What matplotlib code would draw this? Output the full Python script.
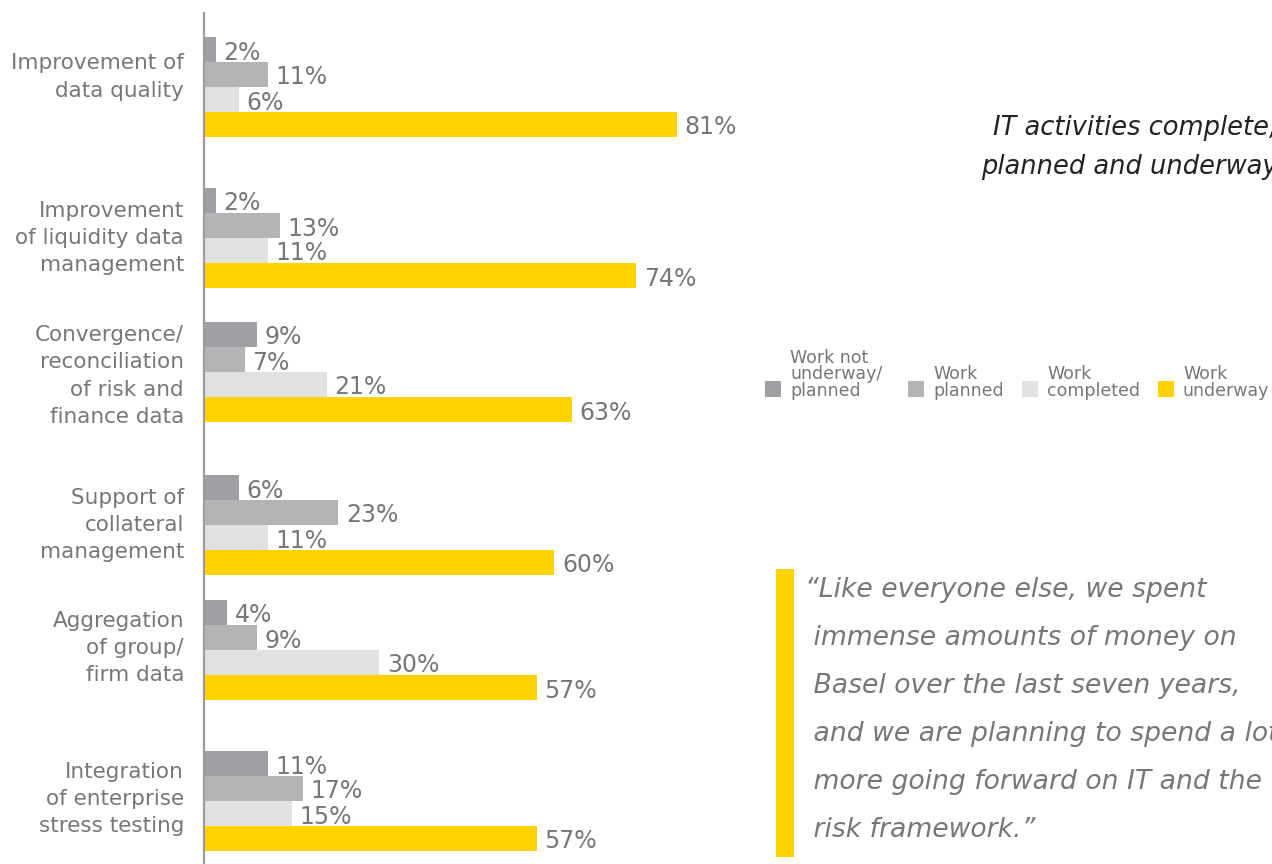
import matplotlib
matplotlib.use("Agg")
import matplotlib.pyplot as plt
from matplotlib.patches import Rectangle

# ---- data -------------------------------------------------------------
categories = [
    "Improvement of\ndata quality",
    "Improvement\nof liquidity data\nmanagement",
    "Convergence/\nreconciliation\nof risk and\nfinance data",
    "Support of\ncollateral\nmanagement",
    "Aggregation\nof group/\nfirm data",
    "Integration\nof enterprise\nstress testing",
]
series_names = ["Work not\nunderway/\nplanned", "Work\nplanned", "Work\ncompleted", "Work\nunderway"]
not_underway = [2, 2, 9, 6, 4, 11]
planned = [11, 13, 7, 23, 9, 17]
completed = [6, 11, 21, 11, 30, 15]
underway = [81, 74, 63, 60, 57, 57]

title_lines = ["IT activities complete,", "planned and underway"]
quote_lines = [
    "\u201cLike everyone else, we spent",
    " immense amounts of money on",
    " Basel over the last seven years,",
    " and we are planning to spend a lot",
    " more going forward on IT and the",
    " risk framework.\u201d",
]

# ---- layout / style ---------------------------------------------------
W, H = 1272, 864
colors = ["#a09fa4", "#b4b4b6", "#e1e1e1", "#ffd200"]
text_grey = "#77777b"
group_tops = [37, 188, 322, 475, 600, 751]   # top edge of each group (px)
label_shift = [-10, 0, 4, 0, -2, -2]           # vertical nudge of category labels (px)
bar_h = 25
axis_x = 204
px_per_pct = 5.84

plt.rcParams["font.family"] = ["DejaVu Sans"]

fig = plt.figure(figsize=(W / 100, H / 100), dpi=100)
ax = fig.add_axes([axis_x / W, 0, 1 - axis_x / W, 1])
ax.set_xlim(0, (W - axis_x) / px_per_pct)
ax.set_ylim(H, 0)
ax.axis("off")

series = [not_underway, planned, completed, underway]
for s, (vals, col) in enumerate(zip(series, colors)):
    ys = [t + s * bar_h + bar_h / 2 for t in group_tops]
    ax.barh(ys, vals, height=bar_h, color=col, linewidth=0)
    for y, v in zip(ys, vals):
        ax.text(v + 1.3, y + 3, f"{v}%", ha="left", va="center",
                fontsize=17, color=text_grey)

# vertical baseline
ax.plot([0, 0], [12, H], color="#9c9c9e", lw=1.6, clip_on=False, solid_capstyle="butt")

# category labels
for t, dy, lab in zip(group_tops, label_shift, categories):
    ax.text(-20 / px_per_pct, t + 2 * bar_h + dy, lab, ha="right", va="center",
            fontsize=15.5, color=text_grey, linespacing=1.45)

# legend
leg_x = [765, 908, 1022, 1158]
for x, name, col in zip(leg_x, series_names, colors):
    fig.patches.append(Rectangle((x / W, 1 - 397 / H), 16 / W, 16 / H,
                                 transform=fig.transFigure, color=col, lw=0))
    fig.text((x + 25) / W, 1 - 400 / H, name, ha="left", va="bottom",
             fontsize=12.5, color=text_grey, linespacing=0.9)

# title
fig.text(993 / W, 1 - 128 / H, title_lines[0], ha="left", va="center",
         fontsize=18.5, style="italic", color="#222222")
fig.text(981 / W, 1 - 167 / H, title_lines[1], ha="left", va="center",
         fontsize=18.5, style="italic", color="#222222")

# quote with yellow bar
fig.patches.append(Rectangle((776 / W, 1 - 857 / H), 18 / W, 288 / H,
                             transform=fig.transFigure, color="#ffd200", lw=0))
for i, line in enumerate(quote_lines):
    fig.text(805 / W, 1 - (590 + 48 * i) / H, line, ha="left", va="center",
             fontsize=19.2, style="italic", color=text_grey)

fig.savefig("out.png", dpi=100, facecolor="white")
